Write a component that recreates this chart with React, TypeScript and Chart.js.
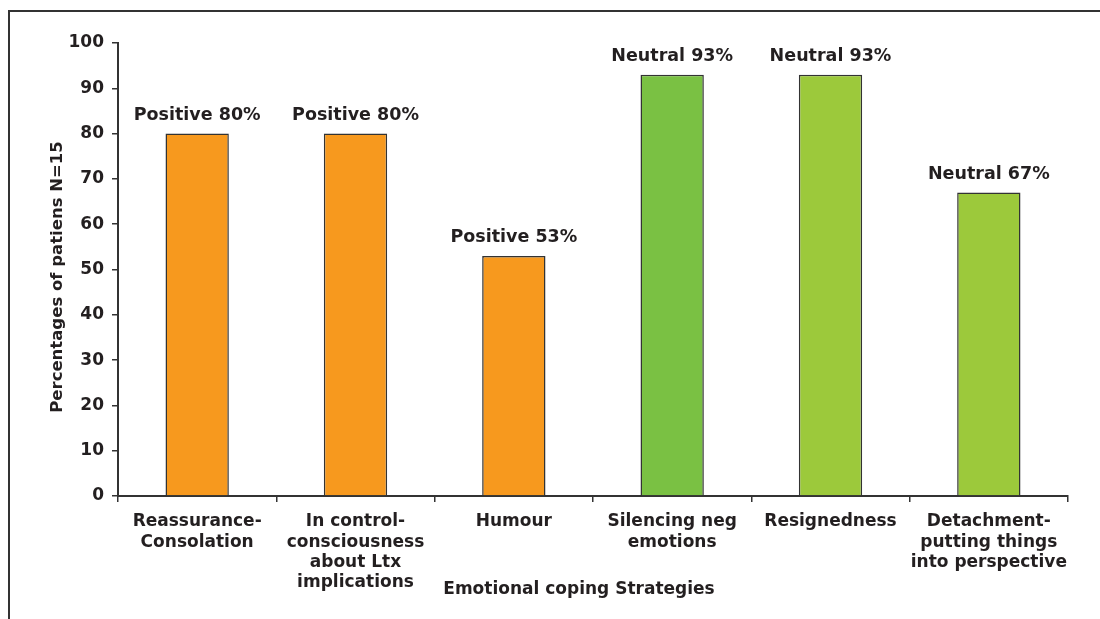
import React, { useEffect, useRef } from "react";
import { Chart, registerables } from "chart.js";

Chart.register(...registerables);

const categories: string[][] = [
  ["Reassurance-", "Consolation"],
  ["In control-", "consciousness", "about Ltx", "implications"],
  ["Humour"],
  ["Silencing neg", "emotions"],
  ["Resignedness"],
  ["Detachment-", "putting things", "into perspective"],
];
const values: number[] = [80, 80, 53, 93, 93, 67];
const sentiments: string[] = ["Positive", "Positive", "Positive", "Neutral", "Neutral", "Neutral"];
const barColors: string[] = ["#F7991E", "#F7991E", "#F7991E", "#7AC143", "#9CC93B", "#9CC93B"];
const yTitle = "Percentages of patiens N=15";
const xTitle = "Emotional coping Strategies";

const FONT = "'DejaVu Sans', Verdana, sans-serif";
const TEXT = "#231F20";

export default function App() {
  const ref = useRef<HTMLCanvasElement | null>(null);

  useEffect(() => {
    if (!ref.current) return;
    const overlay = {
      id: "overlay",
      afterDraw(chart: any) {
        const ctx = chart.ctx;
        ctx.save();
        // frame
        ctx.strokeStyle = "#333333";
        ctx.lineWidth = 2;
        ctx.beginPath();
        ctx.moveTo(9, 619);
        ctx.lineTo(9, 11);
        ctx.lineTo(1100, 11);
        ctx.stroke();
        // data labels
        const meta = chart.getDatasetMeta(0);
        ctx.fillStyle = TEXT;
        ctx.font = `bold 17.5px ${FONT}`;
        ctx.textAlign = "center";
        ctx.textBaseline = "middle";
        meta.data.forEach((bar: any, i: number) => {
          ctx.fillText(`${sentiments[i]} ${values[i]}%`, bar.x, bar.y - 18);
        });
        // x title
        ctx.font = `bold 17px ${FONT}`;
        ctx.fillText(xTitle, 579, 590);
        // y title
        ctx.font = `bold 16.5px ${FONT}`;
        ctx.translate(58, 277);
        ctx.rotate(-Math.PI / 2);
        ctx.fillText(yTitle, 0, 0);
        ctx.restore();
      },
    };

    const chart = new Chart(ref.current, {
      type: "bar",
      data: {
        labels: categories,
        datasets: [
          {
            data: values,
            backgroundColor: barColors,
            borderColor: "#333333",
            borderWidth: 1.5,
            barPercentage: 0.4,
            categoryPercentage: 1,
          },
        ],
      },
      options: {
        animation: false,
        responsive: true,
        maintainAspectRatio: false,
        layout: { padding: { left: 0, top: 43, right: 32, bottom: 0 } },
        plugins: { legend: { display: false }, tooltip: { enabled: false } },
        scales: {
          x: {
            offset: true,
            border: { display: true, color: "#333333", width: 2 },
            grid: {
              offset: true,
              drawOnChartArea: false,
              drawTicks: true,
              tickLength: 6,
              color: "#333333",
              lineWidth: 1.5,
            },
            ticks: {
              color: TEXT,
              font: { family: FONT, size: 17, weight: "bold", lineHeight: 1.18 },
              padding: 10,
              maxRotation: 0,
              autoSkip: false,
            },
            afterFit(scale: any) {
              scale.height = 123;
            },
          },
          y: {
            min: 0,
            max: 100,
            border: { display: true, color: "#333333", width: 2 },
            grid: {
              drawOnChartArea: false,
              drawTicks: true,
              tickLength: 6,
              color: "#333333",
              lineWidth: 1.5,
            },
            ticks: {
              stepSize: 10,
              color: TEXT,
              font: { family: FONT, size: 17, weight: "bold" },
              padding: 8,
            },
            afterFit(scale: any) {
              scale.width = 118;
            },
          },
        },
      },
      plugins: [overlay],
    });
    return () => chart.destroy();
  }, []);

  return (
    <div style={{ position: "absolute", left: 0, top: 0, width: 1100, height: 619, background: "#fff" }}>
      <canvas ref={ref} />
    </div>
  );
}
